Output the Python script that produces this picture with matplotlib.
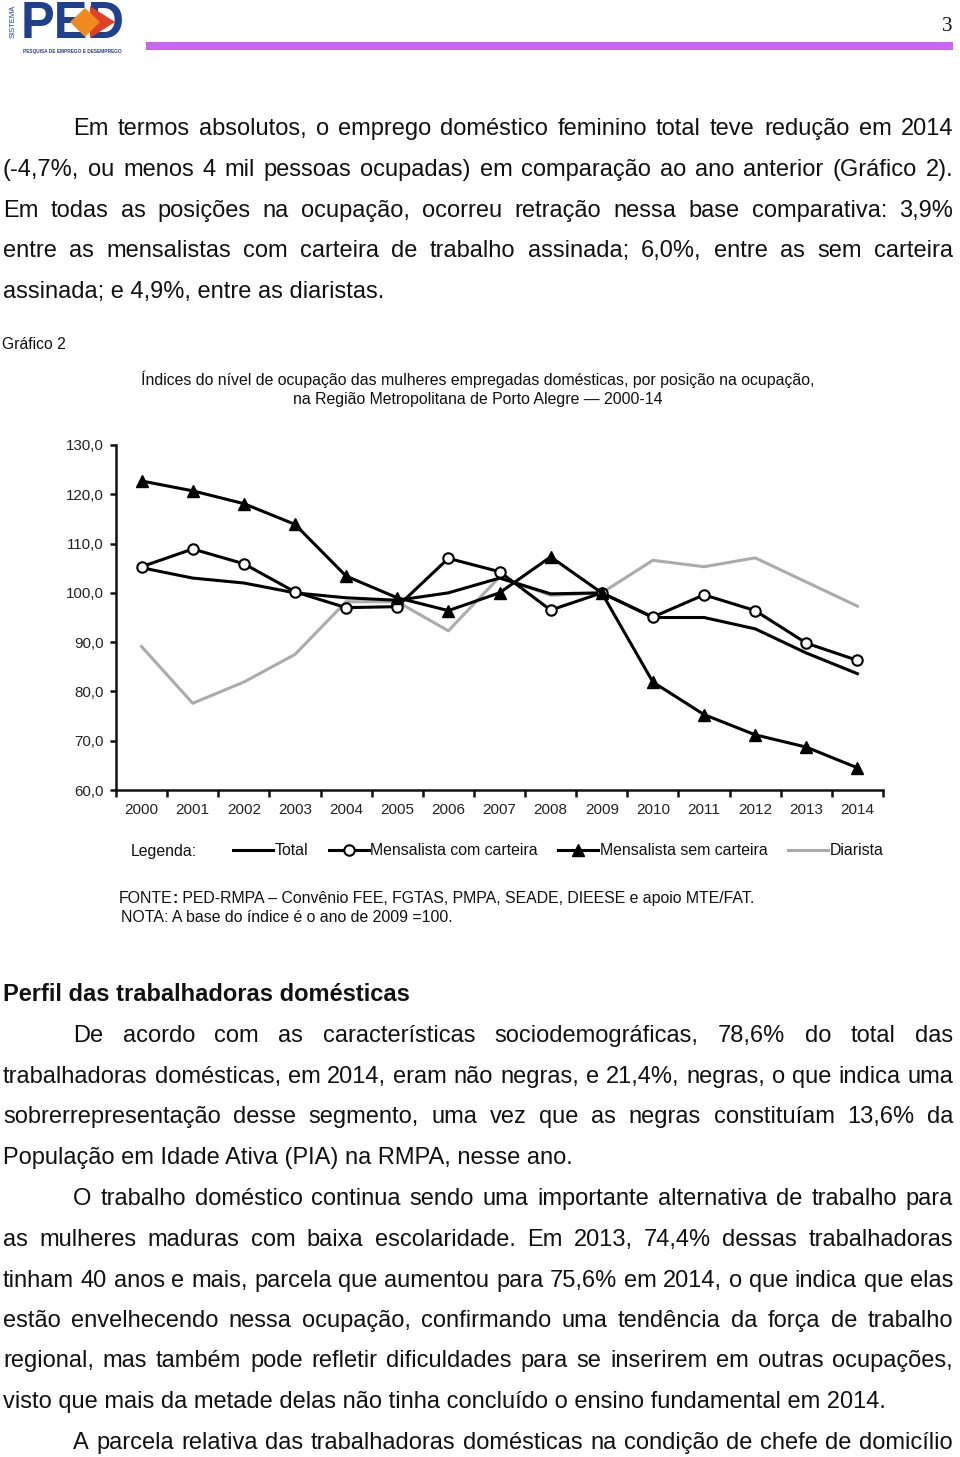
import matplotlib
matplotlib.use('Agg')
import matplotlib.pyplot as plt
from matplotlib.patches import Polygon, Rectangle
from matplotlib.ticker import FixedLocator, FixedFormatter, NullFormatter

# ---------------- data ----------------
years = ['2000', '2001', '2002', '2003', '2004', '2005', '2006', '2007',
         '2008', '2009', '2010', '2011', '2012', '2013', '2014']
total = [105.1, 103.0, 102.0, 100.0, 99.0, 98.5, 100.0, 103.0,
         99.8, 100.0, 95.0, 95.0, 92.7, 87.8, 83.6]
com_carteira = [105.3, 108.9, 105.9, 100.2, 97.0, 97.2, 107.0, 104.3,
                96.5, 100.0, 95.1, 99.6, 96.4, 89.8, 86.3]
sem_carteira = [122.7, 120.7, 118.1, 113.9, 103.4, 99.0, 96.4, 100.0,
                107.3, 100.0, 81.9, 75.3, 71.2, 68.7, 64.5]
diarista = [89.1, 77.6, 81.9, 87.5, 98.2, 98.2, 92.3, 103.2,
            99.5, 100.0, 106.6, 105.3, 107.1, 102.2, 97.3]
y_ticks = [60, 70, 80, 90, 100, 110, 120, 130]
y_tick_labels = ['60,0', '70,0', '80,0', '90,0', '100,0', '110,0', '120,0', '130,0']
series_names = ['Total', 'Mensalista com carteira', 'Mensalista sem carteira', 'Diarista']

para1 = [
    "Em termos absolutos, o emprego doméstico feminino total teve redução em 2014",
    "(-4,7%, ou menos 4 mil pessoas ocupadas) em comparação ao ano anterior (Gráfico 2).",
    "Em todas as posições na ocupação, ocorreu retração nessa base comparativa: 3,9%",
    "entre as mensalistas com carteira de trabalho assinada; 6,0%, entre as sem carteira",
    "assinada; e 4,9%, entre as diaristas.",
]
heading = "Perfil das trabalhadoras domésticas"
para2 = [
    "De acordo com as características sociodemográficas, 78,6% do total das",
    "trabalhadoras domésticas, em 2014, eram não negras, e 21,4%, negras, o que indica uma",
    "sobrerrepresentação desse segmento, uma vez que as negras constituíam 13,6% da",
    "População em Idade Ativa (PIA) na RMPA, nesse ano.",
]
para3 = [
    "O trabalho doméstico continua sendo uma importante alternativa de trabalho para",
    "as mulheres maduras com baixa escolaridade. Em 2013, 74,4% dessas trabalhadoras",
    "tinham 40 anos e mais, parcela que aumentou para 75,6% em 2014, o que indica que elas",
    "estão envelhecendo nessa ocupação, confirmando uma tendência da força de trabalho",
    "regional, mas também pode refletir dificuldades para se inserirem em outras ocupações,",
    "visto que mais da metade delas não tinha concluído o ensino fundamental em 2014.",
]
para4 = [
    "A parcela relativa das trabalhadoras domésticas na condição de chefe de domicílio",
]
chart_label = "Gráfico 2"
title1 = "Índices do nível de ocupação das mulheres empregadas domésticas, por posição na ocupação,"
title2 = "na Região Metropolitana de Porto Alegre — 2000-14"
fonte_rest = " PED-RMPA – Convênio FEE, FGTAS, PMPA, SEADE, DIEESE e apoio MTE/FAT."
nota = "NOTA: A base do índice é o ano de 2009 =100."

# ---------------- setup ----------------
FAM = ['Liberation Sans', 'DejaVu Sans']
plt.rcParams['font.family'] = FAM
W, H = 960, 1457
fig = plt.figure(figsize=(W / 100, H / 100), dpi=100)
fig.patch.set_facecolor('white')
renderer = fig.canvas.get_renderer()
TXT = '#111111'


def fx(x):
    return x / W


def fy(y):
    return 1 - y / H


def width(s, size, weight='normal', family=None):
    t = fig.text(0, 0, s, fontsize=size, fontweight=weight, family=family or FAM)
    w = t.get_window_extent(renderer=renderer).width
    t.remove()
    return w


def fit(s, target, weight='normal', family=None):
    return 20 * target / width(s, 20, weight, family)


def put(x, ybase, s, size, weight='normal', ha='left', color=TXT, family=None, **kw):
    return fig.text(fx(x), fy(ybase), s, fontsize=size, fontweight=weight, ha=ha,
                    va='baseline', color=color, family=family or FAM, **kw)


def line(s, x0, x1, ybase, size, justify, weight='normal'):
    if not justify:
        put(x0, ybase, s, size, weight)
        return
    words = s.split(' ')
    ws = [width(w, size, weight) for w in words]
    gap = (x1 - x0 - sum(ws)) / (len(words) - 1)
    x = x0
    for w, wd in zip(words, ws):
        put(x, ybase, w, size, weight)
        x += wd + gap


LM, RM, IND = 3, 953, 73
body = fit(para1[-1], 381)


def paragraph(lines, baselines, last_justified=False):
    for i, (s, yb) in enumerate(zip(lines, baselines)):
        x0 = IND if i == 0 else LM
        just = (i < len(lines) - 1) or last_justified
        line(s, x0, RM, yb, body, just)


# ---------------- header ----------------
ped = fit("PED", 104, 'bold')
put(21, 37.5, "PED", ped, 'bold', color='#1F3F8F')
fig.patches.append(Polygon([(fx(70), fy(22)), (fx(85), fy(8)), (fx(100), fy(22)), (fx(85), fy(37))],
                           closed=True, transform=fig.transFigure, facecolor='#F08A1C',
                           edgecolor='none', zorder=5))
fig.patches.append(Polygon([(fx(90), fy(6)), (fx(115), fy(22)), (fx(90), fy(38))],
                           closed=True, transform=fig.transFigure, facecolor='#E0402A',
                           edgecolor='none', zorder=4))
fig.text(fx(13), fy(21), "SISTEMA", rotation=90, fontsize=5.5, ha='center', va='center',
         color='#1F3F8F')
fig.text(fx(72), fy(51), "PESQUISA DE EMPREGO E DESEMPREGO", fontsize=3.4, ha='center',
         va='center', color='#1F3F8F', fontweight='bold')
fig.patches.append(Rectangle((fx(146), fy(50)), fx(953) - fx(146), 8 / H,
                             transform=fig.transFigure, facecolor='#C866F2', edgecolor='none'))
fig.text(fx(947), fy(31), "3", fontsize=15, ha='center', va='baseline',
         family=['Liberation Serif', 'DejaVu Serif'], color=TXT)

# ---------------- body text ----------------
paragraph(para1, [135, 176, 217, 257, 298])
hsize = fit(heading, 405, 'bold')
put(LM, 1001, heading, hsize, 'bold')
paragraph(para2, [1042, 1083, 1123, 1164])
paragraph(para3, [1205, 1246, 1287, 1327, 1367, 1408])
paragraph(para4, [1449], last_justified=True)

# ---------------- chart texts ----------------
gsize = fit(chart_label, 64)
put(2, 349, chart_label, gsize)
tsize = fit(title1, 670)
put(478, 385, title1, tsize, ha='center')
put(478, 404, title2, tsize, ha='center')

fsize = fit(nota, 333)
fw = width("FONTE", fsize)
cw = width(":", fsize, 'bold')
put(119, 903, "FONTE", fsize)
put(119 + fw, 903, ":", fsize, 'bold')
put(119 + fw + cw, 903, fonte_rest, fsize)
put(121, 922, nota, fsize)

# ---------------- chart ----------------
ax = fig.add_axes([fx(116), fy(790), (883 - 116) / W, 345 / H])
x = list(range(len(years)))
lw = 2.2
ln_d, = ax.plot(x, diarista, color='#ABABAB', lw=lw, zorder=2, label=series_names[3])
ln_t, = ax.plot(x, total, color='black', lw=lw, zorder=3, label=series_names[0])
ln_c, = ax.plot(x, com_carteira, color='black', lw=lw, marker='o', markersize=7.5,
                markerfacecolor='white', markeredgecolor='black', markeredgewidth=1.5,
                zorder=4, label=series_names[1])
ln_s, = ax.plot(x, sem_carteira, color='black', lw=lw, marker='^', markersize=8,
                markerfacecolor='black', markeredgecolor='black', zorder=4,
                label=series_names[2])

ax.set_xlim(-0.5, len(years) - 0.5)
ax.set_ylim(60, 130)
for s in ['top', 'right']:
    ax.spines[s].set_visible(False)
for s in ['left', 'bottom']:
    ax.spines[s].set_linewidth(1.8)
    ax.spines[s].set_color('#111111')
ax.yaxis.set_major_locator(FixedLocator(y_ticks))
ax.yaxis.set_major_formatter(FixedFormatter(y_tick_labels))
ax.xaxis.set_major_locator(FixedLocator(x))
ax.xaxis.set_major_formatter(FixedFormatter(years))
ax.xaxis.set_minor_locator(FixedLocator([i - 0.5 for i in range(len(years) + 1)]))
ax.xaxis.set_minor_formatter(NullFormatter())
ysz = fit("130,0", 38)
xsz = fit("2000", 34)
ax.tick_params(axis='y', direction='out', length=4, width=1.8, pad=5,
               labelsize=ysz, labelcolor='#222222', color='#111111')
ax.tick_params(axis='x', which='major', length=0, pad=9, labelsize=xsz,
               labelcolor='#222222')
ax.tick_params(axis='x', which='minor', direction='out', length=5, width=1.8, color='#111111')
ax.set_facecolor('none')

# ---------------- legend ----------------
lsize = fit("Mensalista com carteira", 167)
put(131, 856, "Legenda:", lsize)
leg = fig.legend(handles=[ln_t, ln_c, ln_s, ln_d], labels=series_names, ncol=4,
                 loc='center left', bbox_to_anchor=(fx(233), fy(851)), frameon=False,
                 fontsize=lsize, handlelength=40 / (lsize * 100 / 72),
                 handletextpad=0.12, columnspacing=20 / (lsize * 100 / 72),
                 borderaxespad=0, borderpad=0, numpoints=1)
for t in leg.get_texts():
    t.set_color(TXT)

fig.savefig('out.png', dpi=100, facecolor='white')
